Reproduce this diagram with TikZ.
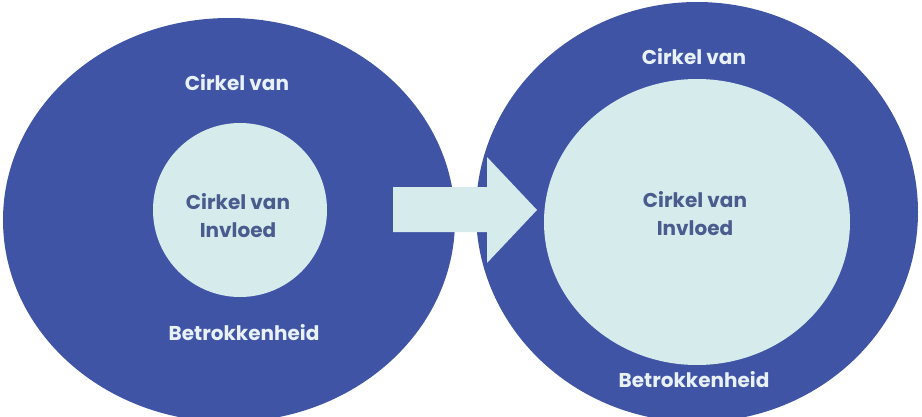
\documentclass[tikz,border=0pt]{standalone}
\usepackage{fontspec}
\setmainfont{Poppins}
\usepackage{tikz}
\usetikzlibrary{shapes.geometric, positioning}

\definecolor{circblue}{RGB}{64,84,165}
\definecolor{circlight}{RGB}{214,236,236}
\definecolor{txtdark}{RGB}{74,92,142}
\definecolor{txtlight}{RGB}{232,240,248}

\tikzset{
	outer/.style={ellipse, fill=circblue, inner sep=0pt},
	inner/.style={ellipse, fill=circlight, inner sep=0pt},
	lbl/.style={font=\bfseries\fontsize{20}{28}\selectfont, text=txtlight, align=center},
	lblin/.style={lbl, text=txtdark}
}

\begin{document}
\begin{tikzpicture}[x=1pt, y=1pt]
			
			\useasboundingbox (0,0) rectangle (922,416);
			\clip (0,0) rectangle (922,416);
			
			% the two outer circles
			\node [outer, minimum width=452pt, minimum height=404pt] (left) at (229,196) {};
			\node [outer, minimum width=442pt, minimum height=420pt] (right) at (697,204) {};
			
			% the arrow between them
			\coordinate (tip) at (537,206);
			\fill [circlight] (393,229) -- (487,229) -- (487,259) -- (tip)
				-- (487,153) -- (487,184) -- (393,184) -- cycle;
			
			% inner circles
			\node [inner, minimum width=174pt, minimum height=174pt] (leftin) at (240,206) {};
			\node [inner, minimum width=306pt, minimum height=286pt] (rightin) at (697,194) {};
			
			\node [lbl] (lefttop) at (237,333) {Cirkel van};
			\node [lbl] (leftbot) at (244,83) {Betrokkenheid};
			\node [lblin] (leftmid) at (238,200) {Cirkel van\\Invloed};
			
			\node [lbl] (righttop) at (694,359) {Cirkel van};
			\node [lbl] (rightbot) at (694,36) {Betrokkenheid};
			\node [lblin] (rightmid) at (695,202) {Cirkel van\\Invloed};
			
\end{tikzpicture}
\end{document}
